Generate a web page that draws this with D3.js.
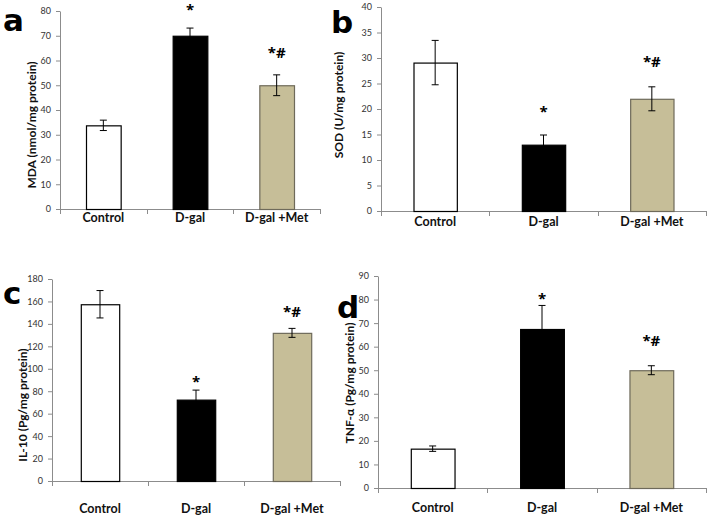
<!DOCTYPE html>
<meta charset="utf-8">
<head>
<style>
  body { margin: 0; background: #fff; }
  text { font-family: Lato, "Open Sans", sans-serif; }
</style>
</head>
<body>
<div id="fig"></div>
<script src="https://cdn.jsdelivr.net/npm/d3@7"></script>
<script>

var width = 708,
    height = 518;

var groups = ["Control", "D-gal", "D-gal +Met"];
var barColors = ["#ffffff", "#000000", "#c6be98"];
var barStroke = ["#000000", "#000000", "#6e6a5a"];

// per panel values (mean, error) and significance marks
var mdaMean = [33.8, 70, 50],
    mdaErr = [2.1, 3.1, 4.2],
    mdaMarkAt = [null, 78.5, 61];
var sodMean = [29.1, 13, 22],
    sodErr = [4.35, 1.9, 2.35],
    sodMarkAt = [null, 18.4, 28.2];
var il10Mean = [157.5, 72.5, 132],
    il10Err = [12.2, 8.5, 4],
    il10MarkAt = [null, 83.8, 146];
var tnfMean = [16.7, 67.5, 50],
    tnfErr = [1.15, 10, 1.9],
    tnfMarkAt = [null, 78, 60.3];
var marks = ["", "*", "*#"];

var mdaTicks = d3.range(0, 81, 10),
    sodTicks = d3.range(0, 41, 5),
    il10Ticks = d3.range(0, 181, 20),
    tnfTicks = d3.range(0, 91, 10);

var svg = d3.select("#fig").append("svg")
    .attr("width", width)
    .attr("height", height);

var axisColor = '#8c8c8c';

function panel(opt) {
  var g = svg.append("g");

  var x = d3.scaleBand()
      .domain(groups)
      .range([opt.x0, opt.x1])
      .paddingInner(0.6)
      .paddingOuter(0.3);
  var y = d3.scaleLinear()
      .domain([0, opt.max])
      .range([opt.y0, opt.y1]);
  var step = x.step();

  // y axis
  var yAxis = g.append("g")
      .attr("transform", "translate(" + opt.x0 + ",0)")
      .call(d3.axisLeft(y).tickValues(opt.ticks).tickSize(4).tickPadding(5).tickSizeOuter(0));
  yAxis.select(".domain").attr("stroke", axisColor);
  yAxis.selectAll(".tick line").attr("stroke", axisColor);
  yAxis.selectAll(".tick text")
      .attr("fill", "#333")
      .style("font-size", "9px")
      .style("font-family", "Lato, sans-serif");

  // x axis line with ticks at category boundaries
  g.append("line")
      .attr("x1", opt.x0).attr("x2", opt.x1)
      .attr("y1", opt.y0 + 0.5).attr("y2", opt.y0 + 0.5)
      .attr("stroke", axisColor);
  for (var i = 0; i <= groups.length; i++) {
    var bx = Math.round(opt.x0 + i * step) + 0.5;
    g.append("line")
        .attr("x1", bx).attr("x2", bx)
        .attr("y1", opt.y0).attr("y2", opt.y0 + 5)
        .attr("stroke", axisColor);
  }

  // bars
  g.selectAll("rect.bar")
      .data(opt.mean)
      .enter().append("rect")
      .attr("class", "bar")
      .attr("x", function(d, i) { return x(groups[i]) + 0.5; })
      .attr("y", function(d) { return y(d) + 0.5; })
      .attr("width", x.bandwidth())
      .attr("height", function(d) { return y(0) - y(d); })
      .attr("fill", function(d, i) { return barColors[i]; })
      .attr("stroke", function(d, i) { return barStroke[i]; })
      .attr("stroke-width", 1.2);

  // error bars
  opt.mean.forEach(function(m, i) {
    var cx = x(groups[i]) + x.bandwidth() / 2,
        top = y(m + opt.err[i]),
        bot = y(m - opt.err[i]);
    g.append("line")
        .attr("x1", cx).attr("x2", cx)
        .attr("y1", top).attr("y2", bot)
        .attr("stroke", "#000").attr("stroke-width", 1);
    [top, bot].forEach(function(yy) {
      g.append("line")
          .attr("x1", cx - 3.5).attr("x2", cx + 3.5)
          .attr("y1", yy).attr("y2", yy)
          .attr("stroke", "#000").attr("stroke-width", 1);
    });
    if (opt.markAt[i] != null) {
      g.append("text")
          .attr("x", cx)
          .attr("y", y(opt.markAt[i]))
          .attr("text-anchor", "middle")
          .style("font-size", "15px")
          .style("font-weight", "bold")
          .style("font-family", "'Open Sans', sans-serif")
          .text(marks[i]);
    }
  });

  // category labels
  groups.forEach(function(c) {
    g.append("text")
        .attr("x", x(c) + x.bandwidth() / 2)
        .attr("y", opt.y0 + opt.lab)
        .attr("text-anchor", "middle")
        .style("font-size", "12.5px")
        .style("font-weight", "bold")
        .attr("fill", "#111")
        .text(c);
  });

  // y title
  g.append("text")
      .attr("transform", "translate(" + opt.tx + "," + opt.ty + ") rotate(-90)")
      .attr("text-anchor", "middle")
      .attr("dy", "0.35em")
      .style("font-size", "12px")
      .style("font-weight", "bold")
      .attr("fill", "#111")
      .text(opt.title);

  // panel letter
  g.append("text")
      .attr("x", opt.lx)
      .attr("y", opt.ly)
      .style("font-size", "31px")
      .style("font-weight", "bold")
      .style("font-family", "'DejaVu Sans', sans-serif")
      .text(opt.letter);
}

panel({x0: 60, x1: 320, y0: 209, y1: 11, max: 80, ticks: mdaTicks,
       mean: mdaMean, err: mdaErr, markAt: mdaMarkAt, lab: 13,
       title: "MDA (nmol/mg protein)", tx: 32, ty: 125, letter: "a", lx: 3, ly: 31});
panel({x0: 381, x1: 706, y0: 211, y1: 7, max: 40, ticks: sodTicks,
       mean: sodMean, err: sodErr, markAt: sodMarkAt, lab: 15,
       title: "SOD (U/mg protein)", tx: 339, ty: 105, letter: "b", lx: 331, ly: 33});
panel({x0: 52, x1: 340, y0: 481, y1: 279, max: 180, ticks: il10Ticks,
       mean: il10Mean, err: il10Err, markAt: il10MarkAt, lab: 32,
       title: "IL-10 (Pg/mg protein)", tx: 23, ty: 405, letter: "c", lx: 3, ly: 304});
panel({x0: 378, x1: 706, y0: 488, y1: 276, max: 90, ticks: tnfTicks,
       mean: tnfMean, err: tnfErr, markAt: tnfMarkAt, lab: 24,
       title: "TNF-\u03b1 (Pg/mg protein)", tx: 350, ty: 383, letter: "d", lx: 337, ly: 318});

</script>
</body>
